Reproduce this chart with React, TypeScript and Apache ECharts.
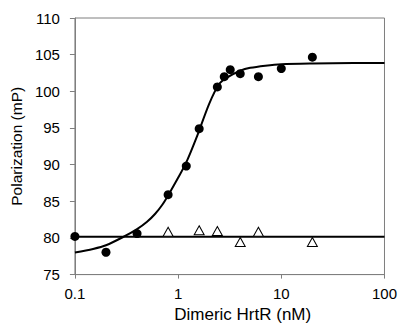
import React, { useEffect, useRef } from "react";
import * as echarts from "echarts";

const boundX = [0.1, 0.2, 0.4, 0.8, 1.2, 1.6, 2.4, 2.8, 3.2, 4, 6, 10, 20];
const boundY = [80.2, 78.05, 80.6, 85.9, 89.8, 94.9, 100.6, 102.0, 102.95, 102.4, 102.0, 103.1, 104.65];

const ctrlX = [0.8, 1.6, 2.4, 4, 6, 20];
const ctrlY = [80.85, 81.05, 80.95, 79.45, 80.85, 79.45];

const fitX = [0.1, 0.15, 0.2, 0.3, 0.4, 0.5, 0.6, 0.7, 0.8, 1.0, 1.2, 1.5, 2.0, 2.5, 3.0, 4.0, 5.0, 7.0, 10, 20, 50, 100];
const fitY = [78.0, 78.5, 79.0, 80.2, 81.2, 82.2, 83.3, 84.5, 85.8, 88.2, 90.3, 93.6, 98.3, 101.0, 101.9, 102.8, 103.2, 103.5, 103.7, 103.8, 103.85, 103.85];

const baseX = [0.1, 100];
const baseY = [80.17, 80.17];

const xTicks = ["0.1", "1", "10", "100"];
const yTicks = [75, 80, 85, 90, 95, 100, 105, 110];

const zip = (a: number[], b: number[]) => a.map((v, i) => [v, b[i]]);

export default function App() {
  const ref = useRef<HTMLDivElement>(null);
  useEffect(() => {
    if (!ref.current) return;
    const chart = echarts.init(ref.current, null, { renderer: "svg" });
    const font = "Arial, 'Liberation Sans', sans-serif";
    chart.setOption({
      animation: false,
      backgroundColor: "#fff",
      grid: {
        left: 69,
        right: 15,
        top: 18,
        bottom: 46,
        show: true,
        borderColor: "#7f7f7f",
        borderWidth: 1,
      },
      xAxis: {
        type: "log",
        logBase: 10,
        min: 0.1,
        max: 100,
        name: "Dimeric HrtR (nM)",
        nameLocation: "middle",
        nameGap: 30,
        nameTextStyle: { fontFamily: font, fontSize: 17, color: "#000", padding: [0, 0, 0, 26] },
        axisLine: { show: true, onZero: false, lineStyle: { color: "#7f7f7f", width: 1 } },
        axisTick: { show: true, inside: false, length: 4, lineStyle: { color: "#7f7f7f" } },
        minorTick: { show: false },
        splitLine: { show: false },
        axisLabel: {
          fontFamily: font,
          fontSize: 15,
          color: "#000",
          margin: 11.5,
          formatter: (v: number) => {
            const idx = Math.round(Math.log10(v)) + 1;
            return xTicks[idx] ?? "";
          },
        },
      },
      yAxis: {
        type: "value",
        min: yTicks[0],
        max: yTicks[yTicks.length - 1],
        interval: 5,
        name: "Polarization (mP)",
        nameLocation: "middle",
        nameRotate: 90,
        nameGap: 44,
        nameTextStyle: { fontFamily: font, fontSize: 15.5, color: "#000" },
        axisLine: { show: true, lineStyle: { color: "#7f7f7f", width: 1 } },
        axisTick: { show: true, inside: false, length: 5, lineStyle: { color: "#7f7f7f" } },
        splitLine: { show: false },
        axisLabel: { fontFamily: font, fontSize: 15, color: "#000", margin: 15 },
      },
      series: [
        {
          type: "line",
          data: zip(baseX, baseY),
          showSymbol: false,
          lineStyle: { color: "#000", width: 2 },
          z: 2,
        },
        {
          type: "line",
          data: zip(fitX, fitY),
          showSymbol: false,
          smooth: 0.3,
          lineStyle: { color: "#000", width: 2 },
          z: 2,
        },
        {
          type: "scatter",
          data: zip(boundX, boundY),
          symbol: "circle",
          symbolSize: 9,
          clip: false,
          itemStyle: { color: "#000", opacity: 1 },
          z: 3,
        },
        {
          type: "scatter",
          data: zip(ctrlX, ctrlY),
          symbol: "triangle",
          symbolSize: [10, 9],
          clip: false,
          itemStyle: { color: "#fff", borderColor: "#000", borderWidth: 1, opacity: 1 },
          z: 3,
        },
      ],
    });
    return () => chart.dispose();
  }, []);
  return <div ref={ref} style={{ width: 400, height: 328, position: "absolute", left: 0, top: 0 }} />;
}
